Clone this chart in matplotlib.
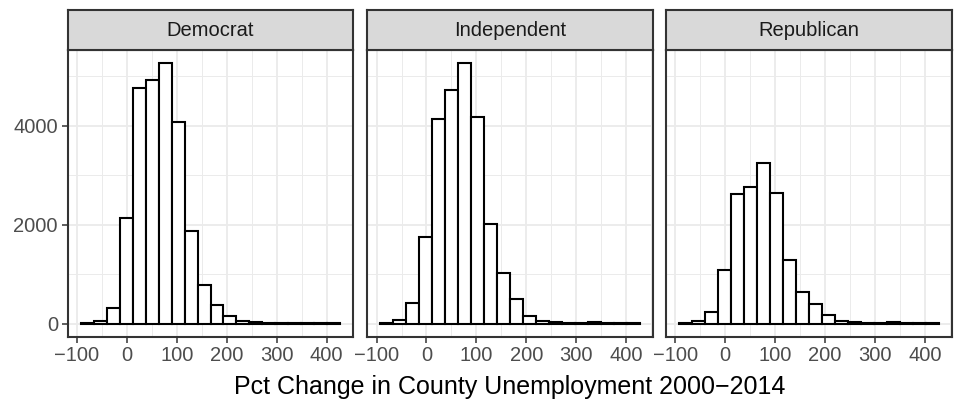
import numpy as np
import matplotlib
matplotlib.use("Agg")
import matplotlib.pyplot as plt
from matplotlib.ticker import MultipleLocator

plt.rcParams['font.family'] = ['Liberation Sans', 'DejaVu Sans']

# Histogram bins (left edge of the first bin and common bin width)
bin_start = -92.6
bin_width = 26.0
n_bins = 20

parties = ["Democrat", "Independent", "Republican"]

democrat_counts = [8, 54, 323, 2144, 4771, 4926, 5269, 4086, 1875, 786,
                   383, 148, 54, 30, 20, 15, 15, 10, 5, 5]
independent_counts = [5, 67, 410, 1747, 4133, 4717, 5262, 4180, 2009, 1021,
                      497, 161, 60, 34, 20, 20, 34, 13, 7, 7]
republican_counts = [5, 54, 242, 1082, 2627, 2755, 3252, 2647, 1283, 645,
                     390, 175, 60, 40, 20, 13, 30, 13, 7, 7]

counts_by_party = [democrat_counts, independent_counts, republican_counts]

x_ticks = [-100, 0, 100, 200, 300, 400]
y_ticks = [0, 2000, 4000]
x_label = "Pct Change in County Unemployment 2000\u22122014"

W, H = 959, 400
fig = plt.figure(figsize=(W / 100, H / 100), dpi=100)

panels_px = [(67.7, 353.3), (367.3, 652.7), (666.0, 951.7)]
panel_top, panel_bottom = 50.0, 336.7
strip_top = 10.0

edges = bin_start + bin_width * np.arange(n_bins + 1)
x_min, x_max = edges[0], edges[-1]
x_pad = 0.05 * (x_max - x_min)
y_max = max(max(c) for c in counts_by_party)
y_pad = 0.05 * y_max

grid_col = "#EBEBEB"
frame_col = "#333333"
tick_col = "#4D4D4D"
small_font = 14.5

for i, (party, counts) in enumerate(zip(parties, counts_by_party)):
    x0, x1 = panels_px[i]
    ax = fig.add_axes([x0 / W, 1 - panel_bottom / H, (x1 - x0) / W,
                       (panel_bottom - panel_top) / H])
    ax.set_axisbelow(True)
    ax.bar(edges[:-1], counts, width=bin_width, align="edge",
           facecolor="white", edgecolor="black", linewidth=1.5, zorder=3)
    ax.set_xlim(x_min - x_pad, x_max + x_pad)
    ax.set_ylim(-y_pad, y_max + y_pad)
    ax.set_xticks(x_ticks)
    ax.xaxis.set_minor_locator(MultipleLocator(50))
    ax.set_yticks(y_ticks)
    ax.yaxis.set_minor_locator(MultipleLocator(1000))
    ax.grid(which="major", color=grid_col, linewidth=1.3)
    ax.grid(which="minor", color=grid_col, linewidth=0.7)
    ax.tick_params(which="minor", length=0)
    ax.tick_params(which="major", direction="out", length=4, width=1.1,
                   color=frame_col, labelcolor=tick_col,
                   labelsize=small_font, pad=3)
    if i > 0:
        ax.tick_params(axis="y", labelleft=False, left=False)
    for s in ax.spines.values():
        s.set_color(frame_col)
        s.set_linewidth(1.5)

    # facet strip
    sax = fig.add_axes([x0 / W, 1 - panel_top / H, (x1 - x0) / W,
                        (panel_top - strip_top) / H])
    sax.set_facecolor("#D9D9D9")
    sax.set_xticks([])
    sax.set_yticks([])
    for s in sax.spines.values():
        s.set_color(frame_col)
        s.set_linewidth(1.5)
    sax.text(0.5, 0.5, party, ha="center", va="center", fontsize=small_font,
             color="#1A1A1A", transform=sax.transAxes)

fig.text((67.7 + 951.7) / 2 / W, 1 - 387 / H, x_label, ha="center",
         va="center", fontsize=18, color="black")

fig.savefig("out.png", dpi=100)
